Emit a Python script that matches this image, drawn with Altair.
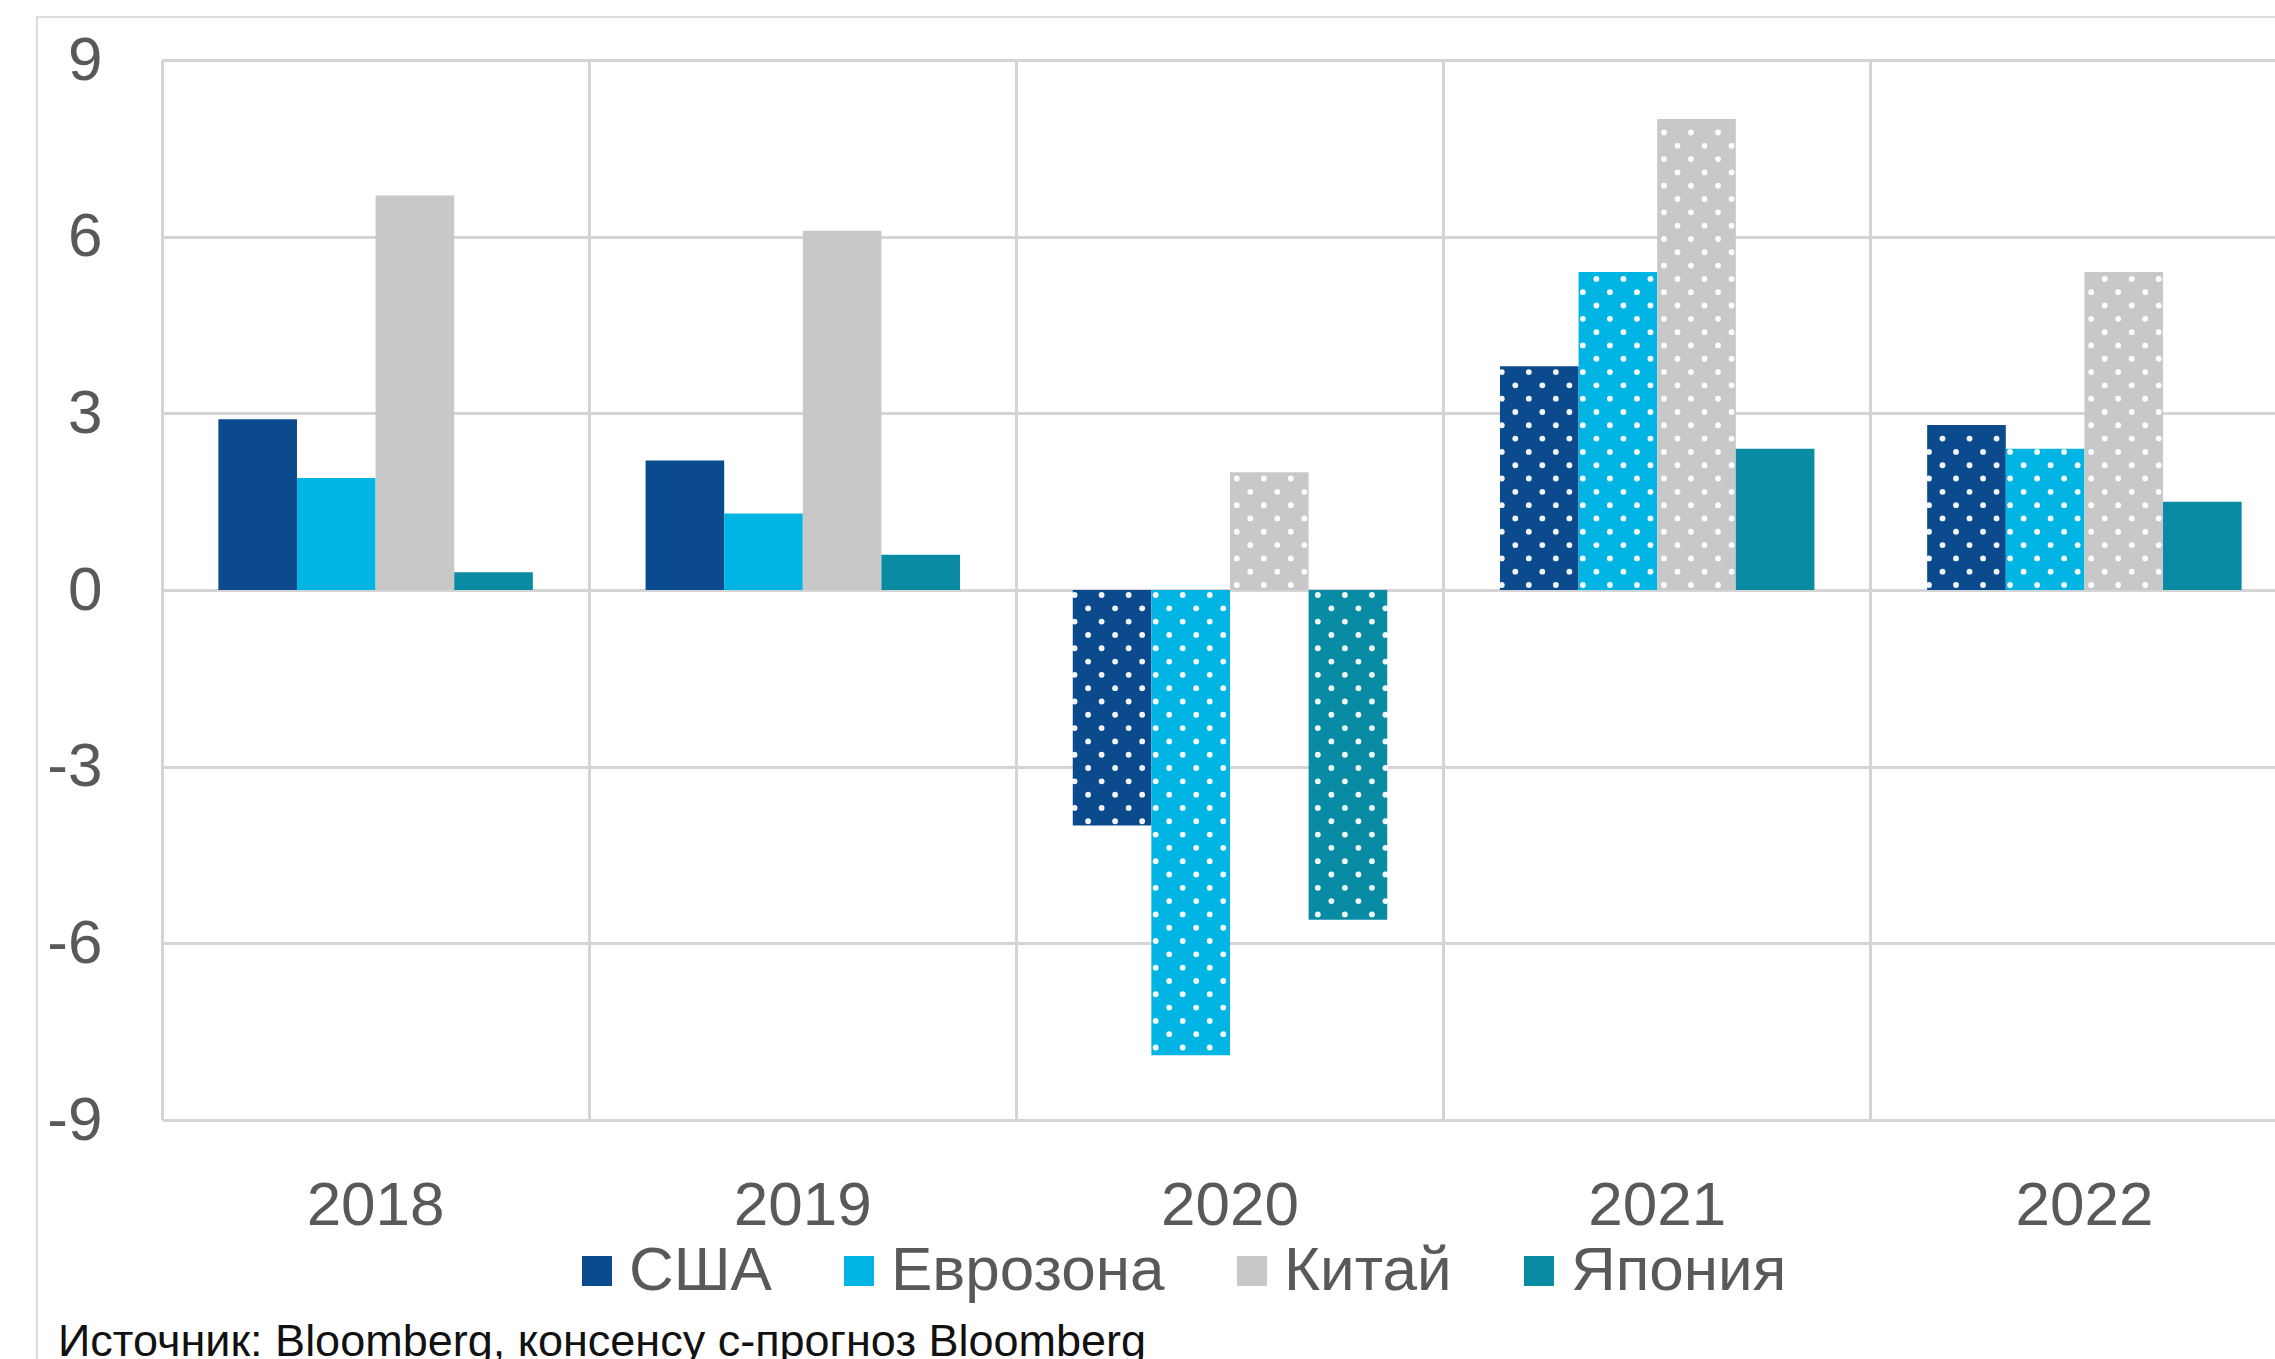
import altair as alt
import pandas as pd

# Real GDP growth, % y/y (2020-2022 partly Bloomberg consensus forecasts)
years = ["2018", "2019", "2020", "2021", "2022"]
regions = ["США", "Еврозона", "Китай", "Япония"]
colors = ["#0B4A8C", "#00B4E3", "#C8C8C8", "#0A8BA4"]

usa = [2.9, 2.2, -4.0, 3.8, 2.8]
euro = [1.9, 1.3, -7.9, 5.4, 2.4]
china = [6.7, 6.1, 2.0, 8.0, 5.4]
japan = [0.3, 0.6, -5.6, 2.4, 1.5]

# forecast values are drawn with a dotted fill
usa_fc = [False, False, True, True, True]
euro_fc = [False, False, True, True, True]
china_fc = [False, False, True, True, True]
japan_fc = [False, False, True, False, False]

source_note = "Источник: Bloomberg,  консенсу с-прогноз Bloomberg"

FONT = "Liberation Sans"
GREY_TEXT = "#595959"
GRID = "#D4D4D4"

BAND = 427.2          # width of one year's band
PLOT_W = 2113
PLOT_H = 1060

series = [(regions[0], usa, usa_fc), (regions[1], euro, euro_fc),
          (regions[2], china, china_fc), (regions[3], japan, japan_fc)]

rows = []
for i, yr in enumerate(years):
    for name, vals, fc in series:
        rows.append({"year": yr, "region": name, "value": vals[i], "forecast": fc[i]})
bars_df = pd.DataFrame(rows)

# white dot texture for forecast bars: staggered rows, 3 dots per row,
# six sub-slots per bar (slots -4..-1 and 24..27 are empty margins)
DOT_PITCH = 0.226
DOT_START = 0.085
dot_rows = []
for r in rows:
    if not r["forecast"]:
        continue
    v = r["value"]
    sign = 1 if v > 0 else -1
    base = regions.index(r["region"]) * 6
    k = 0
    while DOT_START + k * DOT_PITCH < abs(v) - 0.03:
        subs = (0, 2, 4) if k % 2 == 0 else (1, 3, 5)
        for s in subs:
            dot_rows.append({"year": r["year"], "slot": base + s,
                             "value": sign * (DOT_START + k * DOT_PITCH)})
        k += 1
dots_df = pd.DataFrame(dot_rows)
slot_domain = list(range(-4, 28))

x_scale = alt.Scale(range=[0, BAND * 5], paddingInner=0, paddingOuter=0)
x_axis = alt.Axis(title=None, labelAngle=0, labelFont=FONT, labelFontSize=62,
                  labelColor=GREY_TEXT, labelPadding=55, ticks=False, tickSize=0,
                  domain=False, grid=True, bandPosition=0, gridColor=GRID,
                  gridWidth=3)
y_scale = alt.Scale(domain=[-9, 9], nice=False)
y_axis = alt.Axis(title=None, values=[-9, -6, -3, 0, 3, 6, 9],
                  labelExpr="'' + datum.value",
                  labelFont=FONT, labelFontSize=62, labelColor=GREY_TEXT,
                  labelPadding=60, ticks=False, tickSize=0, domain=False,
                  gridColor=GRID, gridWidth=3)

bars = alt.Chart(bars_df).mark_bar().encode(
    x=alt.X("year:N", sort=years, scale=x_scale, axis=x_axis),
    xOffset=alt.XOffset("region:N", sort=regions,
                        scale=alt.Scale(domain=regions, paddingInner=0,
                                        paddingOuter=0.717)),
    y=alt.Y("value:Q", scale=y_scale, axis=y_axis),
    color=alt.Color(
        "region:N", sort=regions,
        scale=alt.Scale(domain=regions, range=colors),
        legend=alt.Legend(
            title=None, orient="none", direction="horizontal",
            legendX=404, legendY=1180, symbolType="square", symbolSize=900,
            symbolStrokeWidth=0, labelFont=FONT, labelFontSize=62,
            labelColor=GREY_TEXT, labelOffset=1, columnPadding=56,
            padding=0, labelLimit=0,
        ),
    ),
)

dot_layer = alt.Chart(dots_df).mark_point(
    filled=True, shape="circle", size=34, opacity=0.95
).encode(
    x=alt.X("year:N", sort=years),
    xOffset=alt.XOffset("slot:O", scale=alt.Scale(domain=slot_domain,
                                                 paddingInner=0,
                                                 paddingOuter=0.305)),
    y=alt.Y("value:Q"),
    color=alt.value("white"),
)

frame = alt.Chart(pd.DataFrame({"k": [0]})).mark_rect(
    fillOpacity=0, stroke="#DCDCDC", strokeWidth=2
).encode(
    x=alt.value(-125), x2=alt.value(2300), y=alt.value(-43), y2=alt.value(1400)
)

note = alt.Chart(pd.DataFrame({"t": [source_note]})).mark_text(
    align="left", baseline="alphabetic", font=FONT,
    fontSize=45, color="#111111"
).encode(text="t:N", x=alt.value(-104), y=alt.value(1296))

chart = alt.layer(frame, bars, dot_layer, note).resolve_scale(
    xOffset="independent"
).properties(
    width=PLOT_W, height=PLOT_H,
    padding={"left": 162, "top": 60, "right": 0, "bottom": 239},
    autosize=alt.AutoSizeParams(type="none"),
).configure_view(stroke=None)

chart.save("out.html", embed_options={"renderer": "svg", "actions": False})
